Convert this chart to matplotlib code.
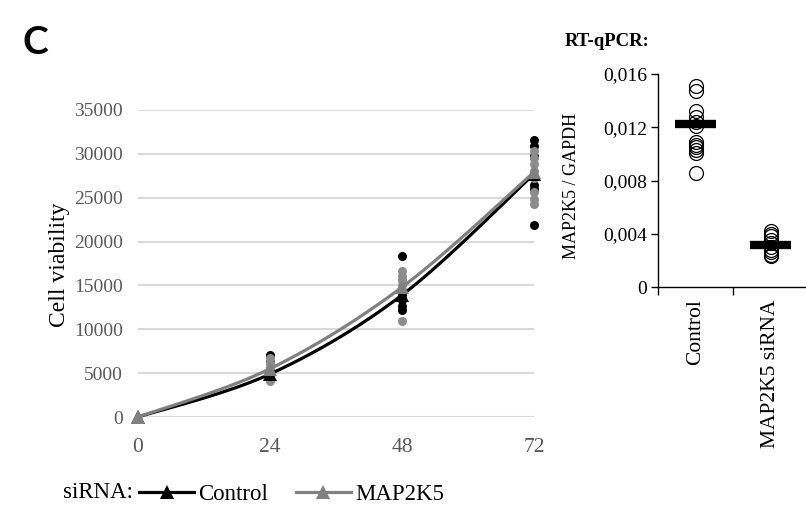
import numpy as np
import matplotlib
matplotlib.use("Agg")
import matplotlib.pyplot as plt
from matplotlib.ticker import FuncFormatter

plt.rcParams["font.family"] = ["Liberation Serif", "DejaVu Serif"]

# ---- growth curve data -------------------------------------------------
hours = [0, 24, 48, 72]
control_mean = [0, 4900, 13900, 27700]
map2k5_mean = [0, 5500, 14800, 27900]

control_reps_24 = [7100, 6300, 5200, 4700, 4300]
control_reps_48 = [18300, 13900, 13300, 12700, 12200]
control_reps_72 = [31600, 30900, 29800, 26400, 26000, 21900]
map2k5_reps_24 = [6700, 6200, 5700, 5300, 4900, 4500, 4100]
map2k5_reps_48 = [16600, 16100, 15600, 15000, 14500, 11000]
map2k5_reps_72 = [30300, 29500, 28800, 28000, 27300, 25600, 24900, 24300]

y_ticks_left = [0, 5000, 10000, 15000, 20000, 25000, 30000, 35000]

# ---- RT-qPCR data ------------------------------------------------------
qpcr_groups = ["Control", "MAP2K5 siRNA"]
qpcr_control = [0.0151, 0.0147, 0.0132, 0.0128, 0.0124, 0.0121, 0.0109,
                0.0107, 0.0105, 0.0103, 0.0101, 0.0086]
qpcr_map2k5 = [0.0042, 0.0040, 0.0038, 0.0035, 0.0033, 0.0030, 0.0028,
               0.0026, 0.0024, 0.0023]
qpcr_center = [0.01222, 0.00318]
y_ticks_right = [0, 0.004, 0.008, 0.012, 0.016]

BLACK = "#000000"
GREY = "#808080"
GREY_DOT = "#8c8c8c"
TICK_TXT = "#595959"


def smooth(x, y, n=30):
    """Bezier smoothing through the points (tangent = neighbour difference / 6)."""
    x = np.asarray(x, float)
    y = np.asarray(y, float)
    p = np.column_stack([x, y])
    out = [p[0]]
    for i in range(len(p) - 1):
        p0 = p[i - 1] if i > 0 else p[i]
        p1, p2 = p[i], p[i + 1]
        p3 = p[i + 2] if i + 2 < len(p) else p[i + 1]
        c1 = p1 + (p2 - p0) / 6.0
        c2 = p2 - (p3 - p1) / 6.0
        t = np.linspace(0, 1, n)[1:, None]
        seg = ((1 - t) ** 3) * p1 + 3 * ((1 - t) ** 2) * t * c1 \
            + 3 * (1 - t) * t ** 2 * c2 + t ** 3 * p2
        out.extend(seg)
    out = np.array(out)
    return out[:, 0], out[:, 1]


fig = plt.figure(figsize=(8.06, 5.12), dpi=100)

# ---- left panel: cell viability ---------------------------------------
ax = fig.add_axes([138 / 806, 1 - 417 / 512, (534 - 138) / 806, (417 - 110) / 512])
ax.set_xlim(0, 72)
ax.set_ylim(0, 35000)
for s in ax.spines.values():
    s.set_visible(False)
ax.set_yticks(y_ticks_left)
ax.set_xticks(hours)
ax.yaxis.grid(True, color="#d9d9d9", linewidth=1.5)
ax.set_axisbelow(True)
ax.tick_params(axis="both", length=0)
ax.tick_params(axis="y", labelsize=14, labelcolor=TICK_TXT, pad=11)
ax.tick_params(axis="x", labelsize=15.5, labelcolor=TICK_TXT, pad=15)

for h, reps in zip(hours[1:], [control_reps_24, control_reps_48, control_reps_72]):
    ax.plot([h] * len(reps), reps, "o", color=BLACK, ms=6.5, mew=0, zorder=3, clip_on=False)
for h, reps in zip(hours[1:], [map2k5_reps_24, map2k5_reps_48, map2k5_reps_72]):
    ax.plot([h] * len(reps), reps, "o", color=GREY_DOT, ms=6.5, mew=0, zorder=3, clip_on=False)

sx, sy = smooth(hours, control_mean)
ax.plot(sx, sy, "-", color=BLACK, lw=2.3, zorder=4, clip_on=False,
         solid_capstyle="round")
ax.plot(hours, control_mean, "^", color=BLACK, ms=10, mew=0, zorder=4, clip_on=False)
sx, sy = smooth(hours, map2k5_mean)
ax.plot(sx, sy, "-", color=GREY, lw=2.3, zorder=5, clip_on=False,
         solid_capstyle="round")
ax.plot(hours, map2k5_mean, "^", color=GREY, ms=10, mew=0, zorder=5, clip_on=False)

fig.text(60 / 806, 1 - 265 / 512, "Cell viability", rotation=90,
         ha="center", va="center", fontsize=17)

# legend row
h_ctrl = plt.Line2D([], [], color=BLACK, lw=2.3, marker="^", ms=10, mew=0)
h_map = plt.Line2D([], [], color=GREY, lw=2.3, marker="^", ms=10, mew=0)
fig.text(133 / 806, 1 - 493 / 512, "siRNA:", ha="right", va="center", fontsize=16.5)
fig.legend([h_ctrl, h_map], ["Control", "MAP2K5"], loc="center left",
           bbox_to_anchor=(139 / 806, 1 - 494 / 512), ncol=2, frameon=False,
           fontsize=16.5, handlelength=2.4, handletextpad=0.2,
           columnspacing=1.2, borderpad=0, borderaxespad=0)

# ---- right panel: RT-qPCR ---------------------------------------------
ax2 = fig.add_axes([658 / 806, 1 - 287 / 512, (808 - 658) / 806, (287 - 74) / 512])
ax2.set_xlim(-0.5, 1.5)
ax2.set_ylim(0, 0.016)
ax2.spines["top"].set_visible(False)
ax2.spines["right"].set_visible(False)
for s in ("left", "bottom"):
    ax2.spines[s].set_linewidth(1.0)
ax2.set_yticks(y_ticks_right)
ax2.yaxis.set_major_formatter(FuncFormatter(
    lambda v, _: "0" if v == 0 else f"{v:.3f}".replace(".", ",")))
ax2.tick_params(axis="y", direction="out", length=5, width=1, labelsize=14, pad=3)
ax2.set_xticks([-0.5, 0.5, 1.5])
ax2.set_xticklabels([])
ax2.tick_params(axis="x", which="major", direction="out", length=6, width=1)
ax2.set_xticks([0, 1], minor=True)
ax2.set_xticklabels(qpcr_groups, minor=True, rotation=90, fontsize=15.5)
ax2.tick_params(axis="x", which="minor", length=0, pad=9)

for i, vals in enumerate([qpcr_control, qpcr_map2k5]):
    ax2.plot([i] * len(vals), vals, "o", mfc="none", mec=BLACK, mew=0.9,
             ms=10, zorder=3, clip_on=False)
ax2.hlines(qpcr_center, [i - 0.27 for i in range(2)], [i + 0.27 for i in range(2)],
           color=BLACK, lw=6, zorder=4)

fig.text(572 / 806, 1 - 186 / 512, "MAP2K5 / GAPDH", rotation=90,
         ha="center", va="center", fontsize=13)
fig.text(565 / 806, 1 - 42 / 512, "RT-qPCR:", ha="left", va="center",
         fontsize=13.5, fontweight="bold")

fig.text(35 / 806, 1 - 42 / 512, "C", ha="center", va="center",
         fontsize=28, fontweight="bold", family=["Lato", "DejaVu Sans"])

fig.savefig("out.png", dpi=100)
